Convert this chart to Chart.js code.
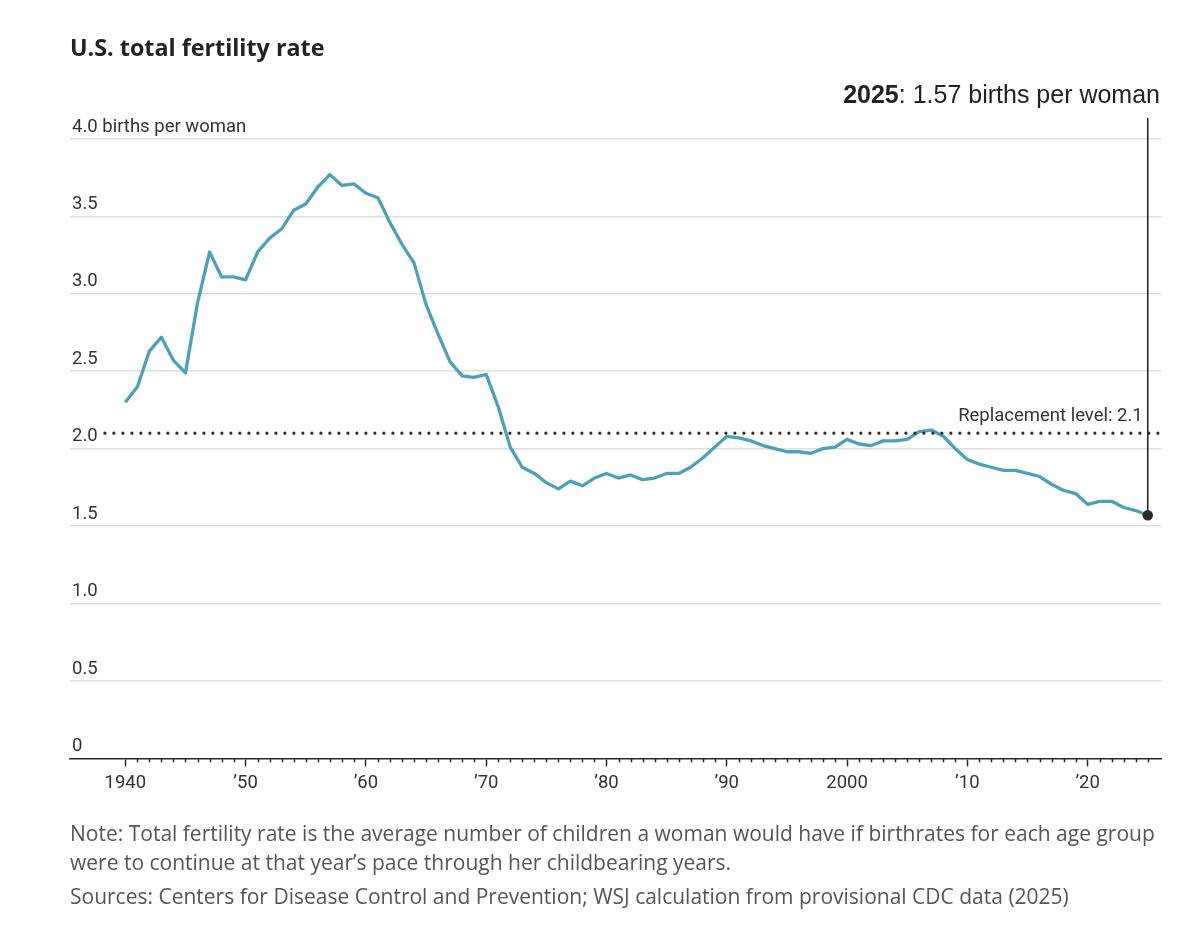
<!DOCTYPE html>
<html>
<head>
<meta charset="utf-8">
<script src="https://cdn.jsdelivr.net/npm/chart.js@4.4.1/dist/chart.umd.min.js"></script>
<style>
  html, body { margin: 0; padding: 0; background: #fff; }
  body { width: 1200px; height: 950px; position: relative; overflow: hidden; }
  #title { position: absolute; left: 70px; top: 32px; font-family: "Open Sans", "Liberation Sans", sans-serif; font-weight: 700; font-size: 23.3px; line-height: 30px; color: #222; white-space: nowrap; }
  #callout { position: absolute; right: 40px; top: 79px; font-family: "Liberation Sans", Arial, sans-serif; font-size: 25px; line-height: 30px; color: #222; white-space: nowrap; }
  #callout b { font-weight: 700; }
  #notes { position: absolute; left: 70px; top: 819px; font-family: "Open Sans", "Liberation Sans", sans-serif; font-size: 21px; line-height: 29px; color: #555; white-space: nowrap; }
  #notes .src { margin-top: 5px; }
  #chartWrap { position: absolute; left: 0; top: 0; width: 1200px; height: 950px; }
</style>
</head>
<body>
<div id="chartWrap"><canvas id="c" width="1200" height="950"></canvas></div>
<div id="title">U.S. total fertility rate</div>
<div id="callout"><b>2025</b>: 1.57 births per woman</div>
<div id="notes">
  <div>Note: Total fertility rate is the average number of children a woman would have if birthrates for each age group<br>were to continue at that year’s pace through her childbearing years.</div>
  <div class="src">Sources: Centers for Disease Control and Prevention; WSJ calculation from provisional CDC data (2025)</div>
</div>
<script>
// ---- Data ----
const YEARS = [
  1940,1941,1942,1943,1944,1945,1946,1947,1948,1949,
  1950,1951,1952,1953,1954,1955,1956,1957,1958,1959,
  1960,1961,1962,1963,1964,1965,1966,1967,1968,1969,
  1970,1971,1972,1973,1974,1975,1976,1977,1978,1979,
  1980,1981,1982,1983,1984,1985,1986,1987,1988,1989,
  1990,1991,1992,1993,1994,1995,1996,1997,1998,1999,
  2000,2001,2002,2003,2004,2005,2006,2007,2008,2009,
  2010,2011,2012,2013,2014,2015,2016,2017,2018,2019,
  2020,2021,2022,2023,2024,2025
];
const TFR = [
  2.30,2.40,2.63,2.72,2.57,2.49,2.94,3.27,3.11,3.11,
  3.09,3.27,3.36,3.42,3.54,3.58,3.69,3.77,3.70,3.71,
  3.65,3.62,3.46,3.32,3.20,2.93,2.74,2.56,2.47,2.46,
  2.48,2.27,2.01,1.88,1.84,1.78,1.74,1.79,1.76,1.81,
  1.84,1.81,1.83,1.80,1.81,1.84,1.84,1.88,1.94,2.01,
  2.08,2.07,2.05,2.02,2.00,1.98,1.98,1.97,2.00,2.01,
  2.06,2.03,2.02,2.05,2.05,2.06,2.11,2.12,2.08,2.00,
  1.93,1.90,1.88,1.86,1.86,1.84,1.82,1.77,1.73,1.71,
  1.64,1.66,1.66,1.62,1.60,1.57
];
const REPLACEMENT_LEVEL = 2.1;
const REPLACEMENT_FROM = 1938.3;   // dotted line begins just right of the "2.0" label
const REPLACEMENT_LABEL = 'Replacement level: 2.1';
const HIGHLIGHT_YEAR = 2025;
const HIGHLIGHT_VALUE = 1.57;

const X_TICKS = [1940,1950,1960,1970,1980,1990,2000,2010,2020];
const X_TICK_LABELS = ['1940','’50','’60','’70','’80','’90','2000','’10','’20'];
const Y_TICKS = [0,0.5,1,1.5,2,2.5,3,3.5,4];
const Y_TICK_LABELS = ['0','0.5','1.0','1.5','2.0','2.5','3.0','3.5','4.0 births per woman'];
const X_MIN = 1935.4, X_MAX = 2026.1;
const Y_MIN = 0, Y_MAX = 4;

// ---- Fonts ----
function hasFont(name) {
  const c = document.createElement('canvas').getContext('2d');
  const s = 'abcdefghijklmnopWW0123';
  c.font = '40px monospace'; const a = c.measureText(s).width;
  c.font = '40px "' + name + '", monospace'; const b = c.measureText(s).width;
  return Math.abs(a - b) > 0.5;
}
const AXIS_FONT = hasFont('Liberation Sans Narrow')
  ? { family: '"Liberation Sans Narrow"', size: 22 }
  : { family: 'Roboto', size: 18.5 };

const LINE_COLOR = '#4aa2ba';
const INK = '#2a2a2a';

// ---- Plugins ----
const extras = {
  id: 'extras',
  afterDraw(chart) {
    const { ctx, chartArea, scales: { x, y } } = chart;
    ctx.save();
    // minor yearly ticks
    ctx.strokeStyle = INK;
    ctx.lineWidth = 1.5;
    YEARS.forEach(yr => {
      if (yr % 10 === 0) return;
      const px = Math.round(x.getPixelForValue(yr)) + 0.5;
      ctx.beginPath();
      ctx.moveTo(px, chartArea.bottom);
      ctx.lineTo(px, chartArea.bottom + 4);
      ctx.stroke();
    });
    // vertical callout line
    const hx = x.getPixelForValue(HIGHLIGHT_YEAR);
    const hy = y.getPixelForValue(HIGHLIGHT_VALUE);
    ctx.strokeStyle = INK;
    ctx.lineWidth = 1.6;
    ctx.beginPath();
    ctx.moveTo(hx, hy);
    ctx.lineTo(hx, y.getPixelForValue(Y_MAX) - 21);
    ctx.stroke();
    // dot
    ctx.fillStyle = INK;
    ctx.beginPath();
    ctx.arc(hx, hy, 5.2, 0, Math.PI * 2);
    ctx.fill();
    // replacement label
    ctx.font = AXIS_FONT.size + 'px ' + AXIS_FONT.family;
    ctx.fillStyle = '#333';
    ctx.textAlign = 'right';
    ctx.textBaseline = 'alphabetic';
    ctx.fillText(REPLACEMENT_LABEL, hx - 5, y.getPixelForValue(REPLACEMENT_LEVEL) - 12);
    ctx.restore();
  }
};

const ctx = document.getElementById('c').getContext('2d');
new Chart(ctx, {
  type: 'line',
  data: {
    datasets: [
      {
        label: 'Replacement level',
        data: [{ x: REPLACEMENT_FROM, y: REPLACEMENT_LEVEL }, { x: X_MAX, y: REPLACEMENT_LEVEL }],
        borderColor: INK,
        borderWidth: 3.2,
        borderDash: [0, 9],
        borderCapStyle: 'round',
        pointRadius: 0,
        order: 0
      },
      {
        label: 'U.S. total fertility rate',
        data: YEARS.map((yr, i) => ({ x: yr, y: TFR[i] })),
        borderColor: LINE_COLOR,
        borderWidth: 3.3,
        borderJoinStyle: 'round',
        tension: 0,
        pointRadius: 0,
        order: 1
      }
    ]
  },
  options: {
    responsive: false,
    animation: false,
    devicePixelRatio: 1,
    layout: { padding: { left: 66, right: 39, top: 139, bottom: 149.5 } },
    plugins: { legend: { display: false }, tooltip: { enabled: false }, title: { display: false } },
    scales: {
      x: {
        type: 'linear',
        min: X_MIN, max: X_MAX,
        afterBuildTicks: (s) => { s.ticks = X_TICKS.map(v => ({ value: v })); },
        grid: { display: true, drawOnChartArea: false, drawTicks: true, tickLength: 8, tickColor: INK, tickWidth: 1.5 },
        border: { display: true, color: INK, width: 1.5 },
        ticks: {
          autoSkip: false, maxRotation: 0, padding: 6,
          color: '#333',
          font: { family: AXIS_FONT.family, size: AXIS_FONT.size },
          callback: (v) => { const i = X_TICKS.indexOf(v); return i >= 0 ? X_TICK_LABELS[i] : ''; }
        }
      },
      y: {
        type: 'linear',
        min: Y_MIN, max: Y_MAX,
        afterBuildTicks: (s) => { s.ticks = Y_TICKS.map(v => ({ value: v })); },
        grid: {
          drawTicks: false,
          lineWidth: 1.5,
          color: (c) => (c.tick && c.tick.value === 0) ? 'rgba(0,0,0,0)' : '#dedede'
        },
        border: { display: false },
        ticks: {
          mirror: true, padding: 2, labelOffset: -12,
          color: '#333',
          font: { family: AXIS_FONT.family, size: AXIS_FONT.size },
          callback: (v) => { const i = Y_TICKS.indexOf(v); return i >= 0 ? Y_TICK_LABELS[i] : ''; }
        }
      }
    }
  },
  plugins: [extras]
});
</script>
</body>
</html>
